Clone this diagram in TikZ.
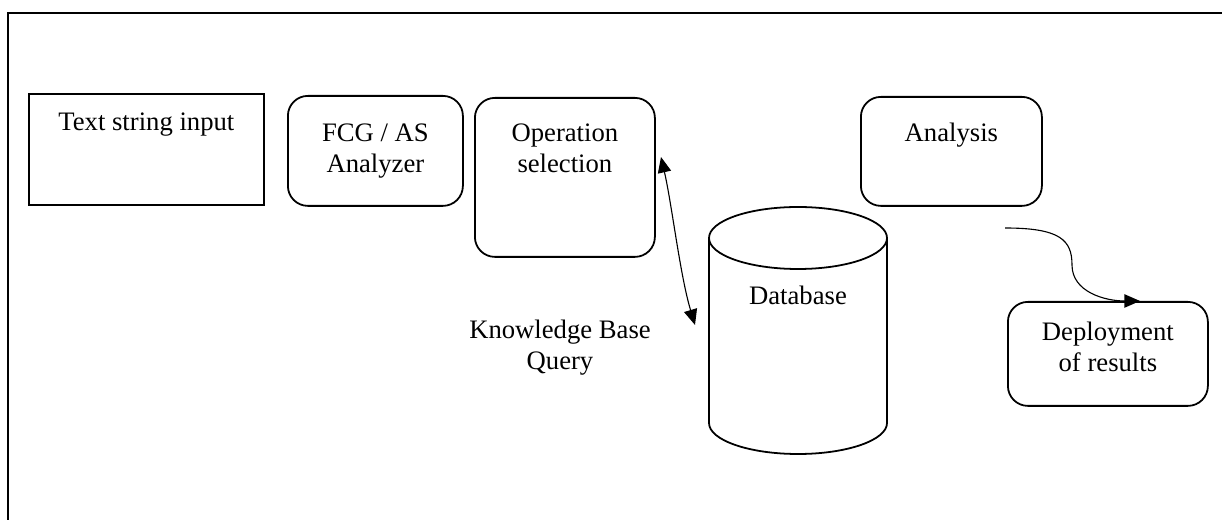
\documentclass[tikz,border=0pt]{standalone}
\usepackage{fontspec}
\setmainfont{Liberation Serif}
\usetikzlibrary{arrows.meta, positioning}

\begin{document}
\begin{tikzpicture}[
    x=0.45pt,
    y=-0.45pt,
    >={Triangle[length=7pt, width=6pt]},
    font=\fontsize{12}{13.8}\selectfont,
    outline/.style={line width=0.8pt},
    box/.style={draw, outline, inner sep=0pt, anchor=north west},
    rbox/.style={box, rounded corners=9pt},
    caption/.style={align=center, inner sep=0pt},
    link/.style={line width=0.5pt},
]
    \useasboundingbox (0,0) rectangle (1222,520);

    % frame (only top and left are visible)
    \draw[line width=1.2pt] (1222,13) -- (8,13) -- (8,520);

    \node[box,  minimum width=105.75pt, minimum height=49.95pt] (input)    at (28,93)   {};
    \node[rbox, minimum width=78.75pt,  minimum height=49.5pt]  (analyzer) at (287,95)  {};
    \node[rbox, minimum width=81pt,     minimum height=71.55pt] (opsel)    at (474,97)  {};
    \node[rbox, minimum width=81.45pt,  minimum height=49.05pt] (analysis) at (860,96)  {};
    \node[rbox, minimum width=90pt,     minimum height=46.8pt]  (deploy)   at (1007,301) {};

    \node[caption, below=7pt of input.north]     (input text)    {\strut Text string input};
    \node[caption, below=11pt of analyzer.north] (analyzer text) {\strut FCG / AS\\Analyzer};
    \node[caption, below=10.1pt of opsel.north]  (opsel text)    {\strut Operation\\selection};
    \node[caption, below=10.6pt of analysis.north] (analysis text) {\strut Analysis};
    \node[caption, below=7.9pt of deploy.north]  (deploy text)   {\strut Deployment\\of results};

    % database cylinder
    \draw[outline] (798,238) ellipse [x radius=40.05pt, y radius=13.95pt];
    \draw[outline] (709,238) -- (709,423)
        arc[start angle=180, end angle=360, x radius=40.05pt, y radius=13.95pt] -- (887,238);
    \node[anchor=base] (database) at (798,305) {Database};

    \node[caption, anchor=north] (query) at (560,317) {\strut Knowledge Base\\Query};

    \coordinate (query top)    at (661,157);
    \coordinate (query bottom) at (695,325);
    \coordinate (result start) at (1005,228);
    \coordinate (result end)   at (1140,301);

    \draw[link, <->] (query top) .. controls (672,205) and (680,275) .. (query bottom);
    \draw[link, ->] (result start) .. controls (1060,228) and (1072,240) .. (1072,265)
        .. controls (1072,292) and (1105,301) .. (result end);
\end{tikzpicture}
\end{document}
